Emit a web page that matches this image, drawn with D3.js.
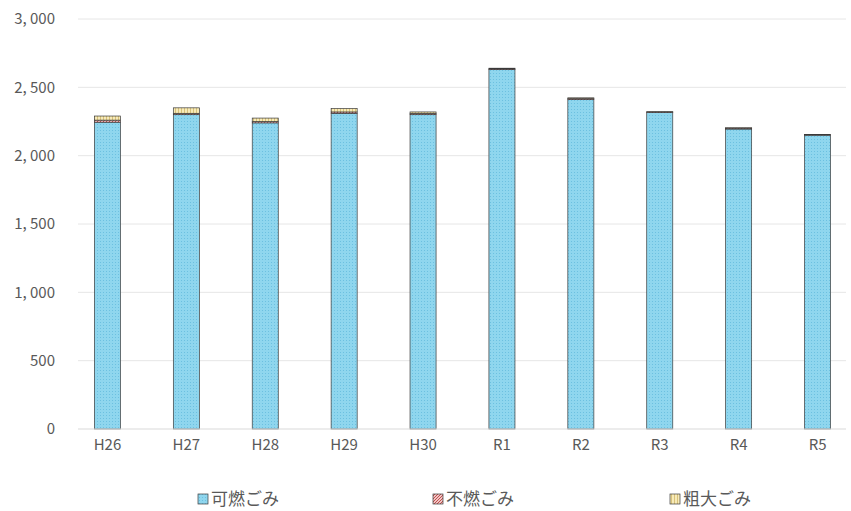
<!DOCTYPE html>
<html><head><meta charset="utf-8">
<script src="https://cdn.jsdelivr.net/npm/d3@7"></script>
<style>body{margin:0;background:#fff;}svg{display:block;font-family:"Noto Sans CJK JP","Noto Sans",sans-serif;}</style>
</head><body>
<svg id="c" width="851" height="511"></svg>
<script>
const categories = ["H26","H27","H28","H29","H30","R1","R2","R3","R4","R5"];
const seriesNames = ["可燃ごみ","不燃ごみ","粗大ごみ"];
const combustible = [2245, 2300, 2240, 2310, 2300, 2630, 2410, 2315, 2195, 2150];
const nonCombustible = [15, 10, 10, 10, 10, 5, 10, 5, 7, 3];
const bulky = [30, 40, 25, 25, 10, 5, 3, 2, 2, 1];
const yTicks = [0, 500, 1000, 1500, 2000, 2500, 3000];

const svg = d3.select("#c");
const defs = svg.append("defs");
// patterns
const p1 = defs.append("pattern").attr("id","pBlue").attr("width",3).attr("height",3).attr("patternUnits","userSpaceOnUse");
p1.append("rect").attr("width",3).attr("height",3).attr("fill","#8fd6ee");
p1.append("rect").attr("x",1).attr("y",1).attr("width",1).attr("height",1).attr("fill","#6cc0e0");
const p2 = defs.append("pattern").attr("id","pRed").attr("width",3).attr("height",3).attr("patternUnits","userSpaceOnUse");
p2.append("rect").attr("width",3).attr("height",3).attr("fill","#f2c4c4");
p2.append("path").attr("d","M0,3 L3,0").attr("stroke","#c0504d").attr("stroke-width",1);
const p3 = defs.append("pattern").attr("id","pYel").attr("width",3).attr("height",3).attr("patternUnits","userSpaceOnUse");
p3.append("rect").attr("width",3).attr("height",3).attr("fill","#f7eab8");
p3.append("rect").attr("x",1).attr("width",1).attr("height",3).attr("fill","#d8c27a");
const fills = ["url(#pBlue)","url(#pRed)","url(#pYel)"];

const margin = {left:68, right:-6, top:19, bottom:82};
const W = 851, H = 511;
const x = d3.scaleBand().domain(categories).range([margin.left, W - margin.right]).paddingInner(0.67).paddingOuter(0.335);
const y = d3.scaleLinear().domain([0,3000]).range([H - margin.bottom, margin.top]);

// gridlines
svg.append("g").selectAll("line").data(yTicks.filter(d=>d>0)).join("line")
  .attr("x1", margin.left+10).attr("x2", 846)
  .attr("y1", d=>y(d)).attr("y2", d=>y(d))
  .attr("stroke","#e6e6e6").attr("stroke-width",1);

// y axis labels
const yAxis = d3.axisLeft(y).tickValues(yTicks).tickSize(0).tickPadding(0).tickFormat(d=>d3.format(",")(d).replace(",", ", "));
const ga = svg.append("g").attr("transform",`translate(${55},0)`).call(yAxis);
ga.select(".domain").remove();
ga.selectAll("text").attr("font-size",15).attr("fill","#595959").attr("font-family","'Noto Sans CJK JP',sans-serif");

// stacked data
const rows = categories.map((c,i)=>({cat:c, a:combustible[i], b:nonCombustible[i], c:bulky[i]}));
const stack = d3.stack().keys(["a","b","c"])(rows);
svg.append("g").selectAll("g").data(stack).join("g")
  .attr("fill",(d,i)=>fills[i])
  .selectAll("rect").data(d=>d).join("rect")
  .attr("x", d=>x(d.data.cat))
  .attr("width", x.bandwidth())
  .attr("y", d=>y(d[1]))
  .attr("height", d=>Math.max(0, y(d[0]) - y(d[1])))
  .attr("stroke","#3a3a3a").attr("stroke-width",0.7);

// baseline
svg.append("line").attr("x1", margin.left+10).attr("x2", 846).attr("y1", y(0)).attr("y2", y(0)).attr("stroke","#d9d9d9");

// x axis labels
const xAxis = d3.axisBottom(x).tickSize(0).tickPadding(10);
const gx = svg.append("g").attr("transform",`translate(0,${y(0)})`).call(xAxis);
gx.select(".domain").remove();
gx.selectAll("text").attr("font-size",15).attr("fill","#595959").attr("font-family","'Noto Sans CJK JP',sans-serif");

// legend
const legX = [198, 433, 670];
const lg = svg.append("g").selectAll("g").data(seriesNames).join("g")
  .attr("transform",(d,i)=>`translate(${legX[i]},${499})`);
lg.append("rect").attr("x",0).attr("y",-5).attr("width",10).attr("height",10)
  .attr("fill",(d,i)=>fills[i]).attr("stroke","#3a3a3a").attr("stroke-width",0.7);
lg.append("text").attr("x",13).attr("y",0).attr("dy","0.35em").text(d=>d)
  .attr("font-size",17).attr("fill","#595959");
</script>
</body></html>
